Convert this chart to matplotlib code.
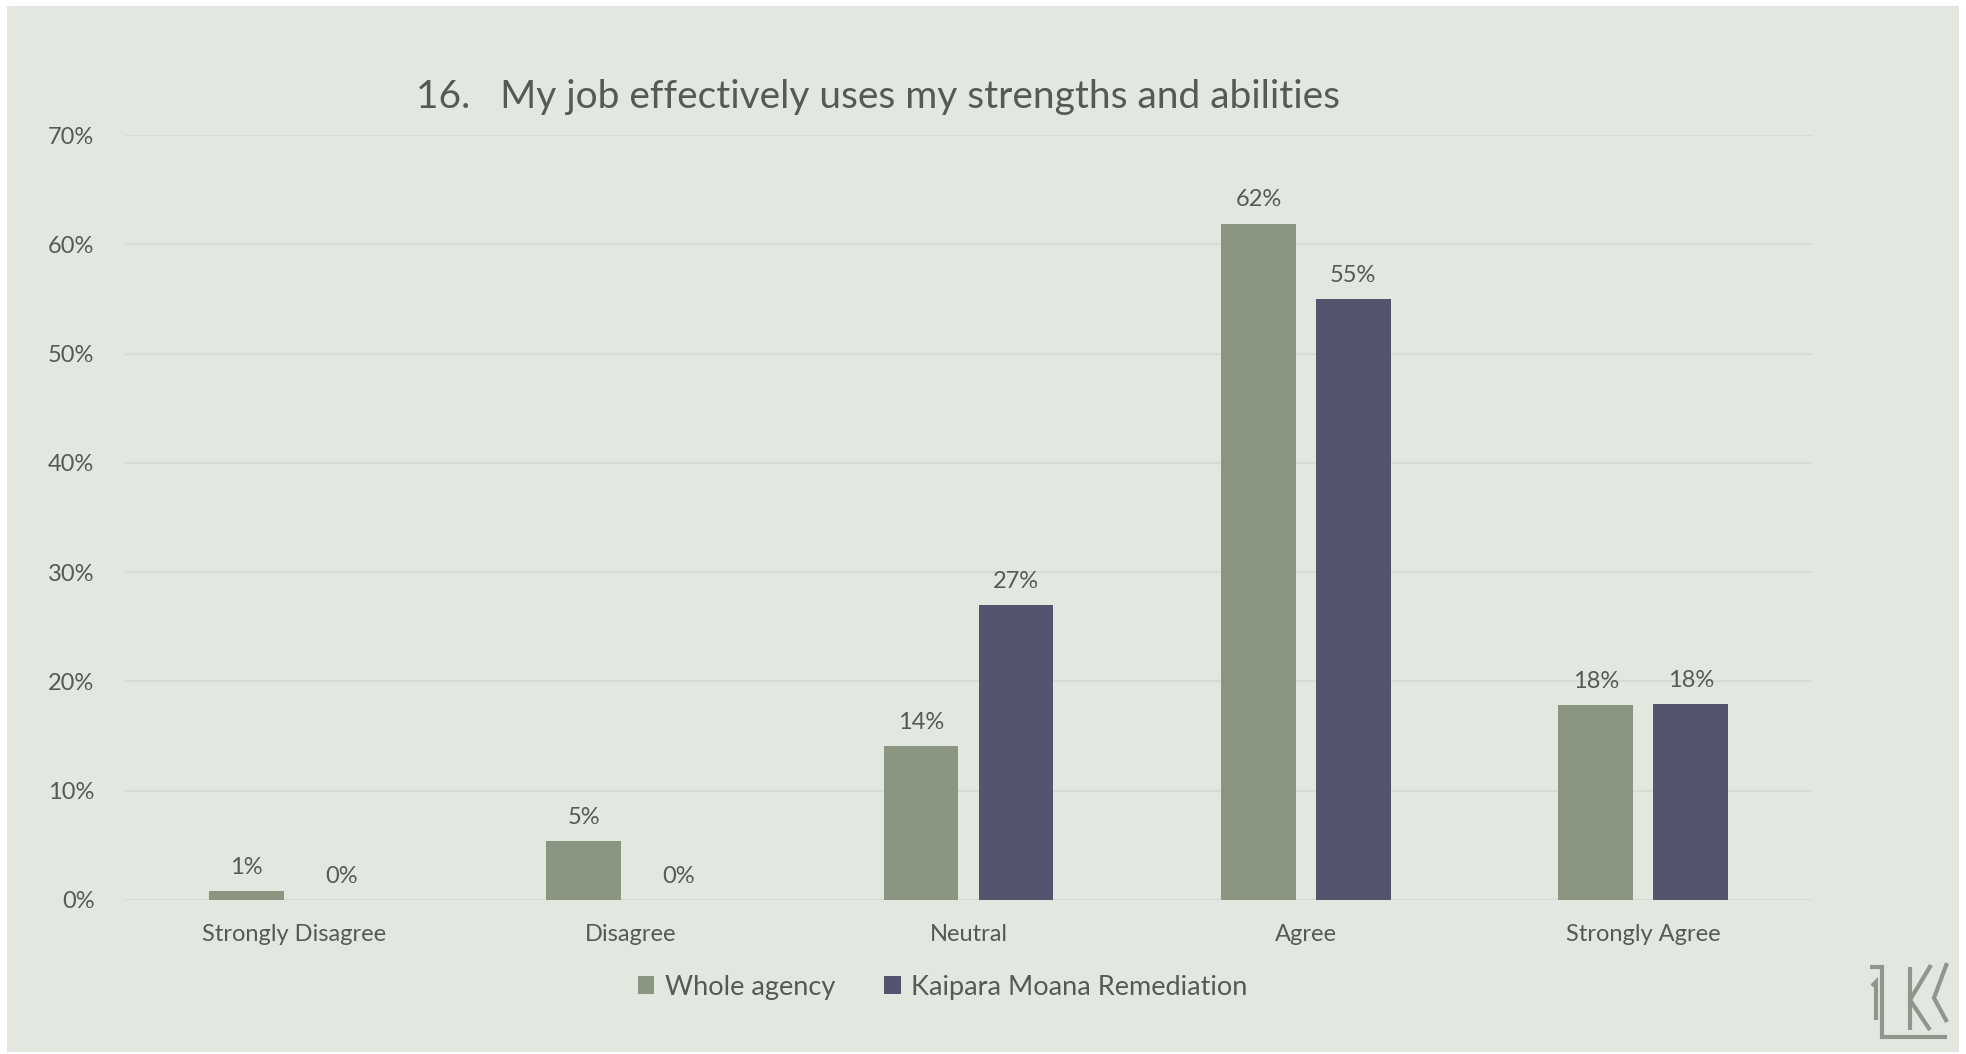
import matplotlib
matplotlib.use("Agg")
import matplotlib.pyplot as plt
from matplotlib.lines import Line2D
import numpy as np

categories = ["Strongly Disagree", "Disagree", "Neutral", "Agree", "Strongly Agree"]
whole_agency = [0.8, 5.4, 14.1, 61.9, 17.8]
kaipara = [0.0, 0.0, 27.0, 55.0, 17.9]
series_names = ["Whole agency", "Kaipara Moana Remediation"]
yticks = [0, 10, 20, 30, 40, 50, 60, 70]
title = "16.   My job effectively uses my strengths and abilities"

BG = "#e2e7e0"
GREEN = "#8a9680"
PURPLE = "#55546f"
TXT = "#555a55"
GRID = "#d6dbd3"

plt.rcParams['font.family'] = ['Lato', 'DejaVu Sans']

W, H = 1966, 1054
fig = plt.figure(figsize=(W/100, H/100), dpi=100, facecolor="white")
# panel background
fig.patches.append(plt.Rectangle((7/W, 1-1052/H), (1959-7)/W, (1052-6)/H,
                                 transform=fig.transFigure, facecolor=BG,
                                 edgecolor="none", zorder=-10))

ax = fig.add_axes([125/W, 1-900/H, (1812-125)/W, (900-135)/H])
ax.set_facecolor("none")

x = np.arange(len(categories))
bw = 0.2215
off = 0.1406
b1 = ax.bar(x - off, whole_agency, bw, color=GREEN, label=series_names[0], zorder=3)
b2 = ax.bar(x + off, kaipara, bw, color=PURPLE, label=series_names[1], zorder=3)

for bars, vals in ((b1, whole_agency), (b2, kaipara)):
    for rect, v in zip(bars, vals):
        ax.annotate(f"{round(v):d}%", (rect.get_x() + rect.get_width()/2, v),
                    xytext=(0, 17), textcoords="offset points",
                    ha="center", va="center", fontsize=17, color=TXT)

ax.set_xlim(-0.5, len(categories) - 0.5)
ax.set_ylim(0, 70)
ax.set_yticks(yticks)
ax.set_yticklabels([f"{t}%" for t in yticks])
ax.set_xticks(x)
ax.set_xticklabels(categories)
ax.tick_params(axis="both", length=0, labelsize=17, labelcolor=TXT)
ax.tick_params(axis="y", pad=22)
ax.tick_params(axis="x", pad=17)
for s in ax.spines.values():
    s.set_visible(False)
ax.yaxis.grid(True, color=GRID, linewidth=1.5, zorder=0)
ax.set_axisbelow(True)

fig.text(878/W, 1-97/H, title, ha="center", va="center", fontsize=28, color=TXT)

leg = fig.legend(handles=[b1, b2], labels=series_names, loc="center",
                 bbox_to_anchor=(943/W, 1-987/H), ncol=2, frameon=False,
                 fontsize=19.5, handlelength=0.6, handleheight=0.6,
                 handletextpad=0.4, columnspacing=1.8, labelcolor=TXT)

# logo (decorative)
LOGO = "#8f968c"
segs = [
    [(1870, 967), (1882, 967), (1882, 1037), (1947, 1037)],
    [(1872, 986), (1876, 982), (1876, 1020)],
    [(1910, 967), (1910, 1030)],
    [(1931, 965), (1910, 1000), (1930, 1030)],
    [(1947, 963), (1934, 998), (1947, 1022)],
]
for seg in segs:
    xs = [p[0]/W for p in seg]
    ys = [1 - p[1]/H for p in seg]
    fig.add_artist(Line2D(xs, ys, color=LOGO, linewidth=3, transform=fig.transFigure,
                          solid_capstyle="butt", solid_joinstyle="miter"))

fig.savefig("out.png", dpi=100, facecolor="white")
